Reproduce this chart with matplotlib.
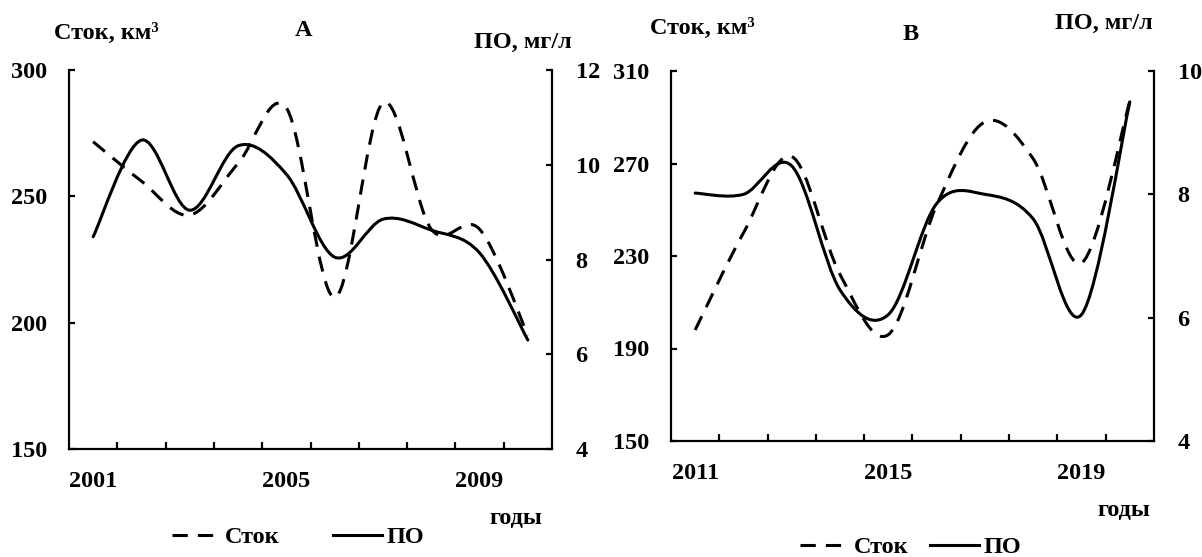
import matplotlib
matplotlib.use('Agg')
import matplotlib.pyplot as plt
from matplotlib.path import Path
from matplotlib.patches import PathPatch
from matplotlib.lines import Line2D

# ---- data ----
years_a = [2001, 2002, 2003, 2004, 2005, 2006, 2007, 2008, 2009, 2010]
stok_a = [271.6, 256, 242.6, 263, 285, 210, 287, 237, 237, 195]
po_a = [8.48, 10.52, 9.04, 10.4, 9.8, 8.05, 8.85, 8.62, 8.14, 6.3]

years_b = [2011, 2012, 2013, 2014, 2015, 2016, 2017, 2018, 2019, 2020]
stok_b = [198, 240, 273, 222, 196, 252, 288, 272, 227, 297]
po_b = [8.02, 8.0, 8.46, 6.45, 6.05, 7.85, 8.0, 7.6, 6.05, 9.5]

left_ticks_a = [150, 200, 250, 300]
right_ticks_a = [4, 6, 8, 10, 12]
left_ticks_b = [150, 190, 230, 270, 310]
right_ticks_b = [4, 6, 8, 10]

plt.rcParams['font.family'] = ['Liberation Serif', 'DejaVu Serif']
plt.rcParams['font.weight'] = 'bold'
FS = 17.5

W, H = 1202, 557
fig = plt.figure(figsize=(W / 100, H / 100), dpi=100)


def smooth_path(x, y):
    n = len(x)
    verts = [(x[0], y[0])]
    codes = [Path.MOVETO]
    for i in range(n - 1):
        xp, yp = (x[i - 1], y[i - 1]) if i > 0 else (x[i], y[i])
        xn, yn = (x[i + 2], y[i + 2]) if i + 2 < n else (x[i + 1], y[i + 1])
        c1 = (x[i] + (x[i + 1] - xp) / 6, y[i] + (y[i + 1] - yp) / 6)
        c2 = (x[i + 1] - (xn - x[i]) / 6, y[i + 1] - (yn - y[i]) / 6)
        verts += [c1, c2, (x[i + 1], y[i + 1])]
        codes += [Path.CURVE4] * 3
    return Path(verts, codes)


DASH = (0, (5.0, 3.3))
LW = 2.2


def panel(rect, years, stok, po, lticks, rticks, lpad, rpad):
    ax = fig.add_axes(rect)
    ax2 = ax.twinx()
    xs = list(range(len(years)))
    ax.add_patch(PathPatch(smooth_path(xs, stok), fill=False, edgecolor='black',
                           lw=LW, linestyle=DASH, capstyle='butt'))
    ax2.add_patch(PathPatch(smooth_path(xs, po), fill=False, edgecolor='black',
                            lw=LW, capstyle='round'))
    ax.set_xlim(-0.5, len(years) - 0.5)
    ax.set_ylim(lticks[0], lticks[-1])
    ax2.set_ylim(rticks[0], rticks[-1])
    for a in (ax, ax2):
        a.spines['top'].set_visible(False)
        for s in a.spines.values():
            s.set_linewidth(1.6)
        a.patch.set_visible(False)
    ax2.spines['left'].set_visible(False)
    ax2.spines['bottom'].set_visible(False)
    ax.spines['right'].set_visible(False)
    ax.set_yticks(lticks)
    ax.set_yticklabels([str(t) for t in lticks], fontsize=FS, fontweight='bold')
    ax.tick_params(axis='y', direction='in', length=4.5, width=1.6, pad=lpad)
    ax2.set_yticks(rticks)
    ax2.set_yticklabels([str(t) for t in rticks], fontsize=FS, fontweight='bold')
    ax2.tick_params(axis='y', direction='in', length=4.5, width=1.6, pad=rpad)
    ax.set_xticks([i + 0.5 for i in range(len(years) - 1)])
    ax.set_xticklabels([])
    ax.tick_params(axis='x', which='major', direction='in', length=5, width=1.6)
    lab_idx = [0, 4, 8]
    ax.set_xticks(lab_idx, minor=True)
    ax.set_xticklabels([str(years[i]) for i in lab_idx], minor=True,
                       fontsize=FS, fontweight='bold')
    ax.tick_params(axis='x', which='minor', length=0, pad=16)
    return ax, ax2


ax_a, ax2_a = panel([69 / W, 1 - 449 / H, 483 / W, 379 / H], years_a, stok_a, po_a,
                    left_ticks_a, right_ticks_a, 15.5, 17)
ax_b, ax2_b = panel([671 / W, 1 - 441 / H, 483 / W, 370 / H], years_b, stok_b, po_b,
                    left_ticks_b, right_ticks_b, 15.5, 17)


def ftext(x, y, s):
    fig.text(x / W, 1 - y / H, s, ha='center', va='center', fontsize=FS,
             fontweight='bold')


ftext(106, 33, 'Сток, км³')
ftext(304, 30, 'А')
ftext(523, 42, 'ПО, мг/л')
ftext(516, 518, 'годы')

ftext(702, 28, 'Сток, км³')
ftext(911, 34, 'В')
ftext(1104, 23, 'ПО, мг/л')
ftext(1124, 510, 'годы')

handles = [Line2D([], [], color='black', lw=LW, linestyle=DASH),
           Line2D([], [], color='black', lw=LW)]
labels = ['Сток', 'ПО']
fig.legend(handles, labels, loc='center', bbox_to_anchor=(298 / W, 1 - 537 / H),
           ncol=2, frameon=False, handlelength=2.0, handletextpad=0.2,
           columnspacing=2.2, prop={'weight': 'bold', 'size': FS})
fig.legend(handles, labels, loc='center', bbox_to_anchor=(911 / W, 1 - 547 / H),
           ncol=2, frameon=False, handlelength=2.0, handletextpad=0.2,
           columnspacing=0.9, prop={'weight': 'bold', 'size': FS})

fig.savefig('out.png', dpi=100)
